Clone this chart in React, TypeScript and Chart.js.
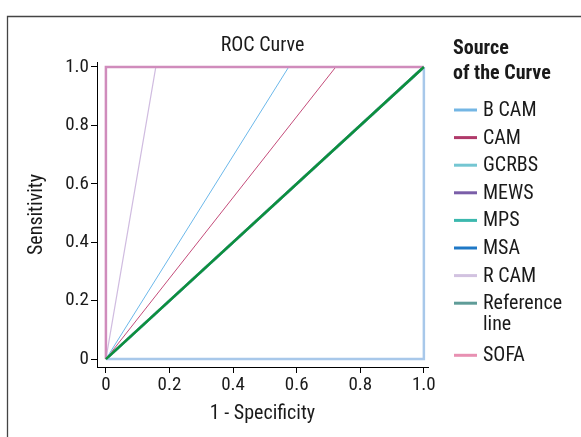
import React, { useEffect, useRef } from "react";
import { Chart, registerables } from "chart.js";

Chart.register(...registerables);

// ---- data ----
const chartTitle = "ROC Curve";
const xAxisTitle = "1 - Specificity";
const yAxisTitle = "Sensitivity";
const legendTitle = ["Source", "of the Curve"];
const seriesNames = ["B CAM", "CAM", "GCRBS", "MEWS", "MPS", "MSA", "R CAM", "Reference line", "SOFA"];
const legendColors = ["#74b6e4", "#b03a6a", "#74c6d2", "#7a5ea8", "#3cb8ae", "#1f78c6", "#d2c2e0", "#5f9c98", "#e890b2"];
const lineColors = ["#6cb8ea", "#c44c7a", "#74c6d2", "#7a5ea8", "#3cb8ae", "#a8c8ea", "#d0bce0", "#0d8f3b", "#d08cbc"];
const lineWidths = [1, 1, 2.5, 2.5, 2.5, 2.5, 1.2, 2.5, 2.5];
const drawOrder = [3, 3, 4, 4, 4, 2, 3, 0, 1];

// x = 1 - specificity, y = sensitivity
const bcamX = [0, 0.575, 1];
const bcamY = [0, 1, 1];
const camX = [0, 0.723, 1];
const camY = [0, 1, 1];
const gcrbsX = [0, 1];
const gcrbsY = [0, 1];
const mewsX = [0, 1];
const mewsY = [0, 1];
const mpsX = [0, 1];
const mpsY = [0, 1];
const msaX = [0, 1, 1];
const msaY = [0, 0, 1];
const rcamX = [0, 0.157, 1];
const rcamY = [0, 1, 1];
const refX = [0, 1];
const refY = [0, 1];
const sofaX = [0, 0, 1];
const sofaY = [0, 1, 1];

const seriesX = [bcamX, camX, gcrbsX, mewsX, mpsX, msaX, rcamX, refX, sofaX];
const seriesY = [bcamY, camY, gcrbsY, mewsY, mpsY, msaY, rcamY, refY, sofaY];

const tickValues = [0, 0.2, 0.4, 0.6, 0.8, 1.0];
const tickLabels = ["0", "0.2", "0.4", "0.6", "0.8", "1.0"];

const FONT = "'Liberation Sans Narrow', 'Roboto Condensed', 'DejaVu Sans Condensed', Roboto, sans-serif";

const decorPlugin = {
  id: "decor",
  beforeDraw(chart: any) {
    const ctx = chart.ctx;
    ctx.save();
    ctx.strokeStyle = "#444";
    ctx.lineWidth = 1.3;
    ctx.beginPath();
    ctx.moveTo(581, 16.5);
    ctx.lineTo(7.5, 16.5);
    ctx.lineTo(7.5, 437);
    ctx.stroke();
    ctx.restore();
  },
  afterDraw(chart: any) {
    const ctx = chart.ctx;
    const area = chart.chartArea;
    ctx.save();
    ctx.fillStyle = "#1a1a1a";
    ctx.font = `20px ${FONT}`;
    ctx.textAlign = "center";
    ctx.textBaseline = "middle";
    ctx.fillText(chartTitle, (area.left + area.right) / 2, 46);

    // legend
    const lx = 453;
    ctx.textAlign = "left";
    ctx.font = `bold 20px ${FONT}`;
    ctx.fillText(legendTitle[0], lx, 49);
    ctx.fillText(legendTitle[1], lx, 74);
    ctx.font = `20px ${FONT}`;
    const maxW = 581 - 483 - 4;
    let y = 110;
    seriesNames.forEach((name, i) => {
      ctx.strokeStyle = legendColors[i];
      ctx.lineWidth = 3;
      ctx.beginPath();
      ctx.moveTo(454, y);
      ctx.lineTo(477, y);
      ctx.stroke();
      const words = name.split(" ");
      const lines: string[] = [];
      let cur = "";
      words.forEach((w) => {
        const t = cur ? cur + " " + w : w;
        if (cur && ctx.measureText(t).width > maxW) {
          lines.push(cur);
          cur = w;
        } else cur = t;
      });
      lines.push(cur);
      lines.forEach((ln, j) => ctx.fillText(ln, 483, y + 1 + j * 21));
      y += 27.6 + (lines.length - 1) * 24.5;
    });
    ctx.restore();
  },
};

export default function App() {
  const ref = useRef<HTMLCanvasElement | null>(null);
  useEffect(() => {
    if (!ref.current) return;
    const datasets = seriesNames.map((name, i) => ({
      label: name,
      data: seriesX[i].map((x, k) => ({ x, y: seriesY[i][k] })),
      showLine: true,
      borderColor: lineColors[i],
      backgroundColor: legendColors[i],
      borderWidth: lineWidths[i],
      pointRadius: 0,
      fill: false,
      tension: 0,
      order: drawOrder[i],
    }));
    const tickFont = { family: FONT, size: 19 };
    const titleFont = { family: FONT, size: 20 };
    const chart = new Chart(ref.current, {
      type: "scatter",
      data: { datasets },
      options: {
        animation: false,
        responsive: false,
        layout: { padding: { left: 0, top: 62, right: 153, bottom: 0 } },
        plugins: { legend: { display: false }, title: { display: false }, tooltip: { enabled: false } },
        scales: {
          x: {
            type: "linear",
            min: -0.028,
            max: 1.013,
            afterBuildTicks: (s: any) => {
              s.ticks = tickValues.map((v) => ({ value: v }));
            },
            afterFit: (s: any) => {
              s.height = 70;
            },
            grid: { display: true, drawOnChartArea: false, drawTicks: true, tickLength: 6, color: "#000" },
            border: { display: true, color: "#000", width: 1 },
            ticks: {
              color: "#1a1a1a",
              font: tickFont,
              padding: 1,
              maxRotation: 0,
              autoSkip: false,
              callback: (_v: any, i: number) => tickLabels[i],
            },
            title: { display: true, text: xAxisTitle, color: "#1a1a1a", font: titleFont, padding: { top: 0, bottom: 11 } },
          },
          y: {
            type: "linear",
            min: -0.027,
            max: 1.017,
            afterBuildTicks: (s: any) => {
              s.ticks = tickValues.map((v) => ({ value: v }));
            },
            afterFit: (s: any) => {
              s.width = 97;
            },
            grid: { display: true, drawOnChartArea: false, drawTicks: true, tickLength: 6, color: "#000" },
            border: { display: true, color: "#000", width: 1 },
            ticks: {
              color: "#1a1a1a",
              font: tickFont,
              padding: 2,
              autoSkip: false,
              callback: (_v: any, i: number) => tickLabels[i],
            },
            title: { display: true, text: yAxisTitle, color: "#1a1a1a", font: titleFont, padding: { top: 25, bottom: 0 } },
          },
        },
      },
      plugins: [decorPlugin],
    });
    return () => chart.destroy();
  }, []);
  return (
    <div style={{ position: "fixed", left: 0, top: 0, width: 581, height: 437, background: "#fff" }}>
      <canvas ref={ref} width={581} height={437} style={{ display: "block" }} />
    </div>
  );
}
